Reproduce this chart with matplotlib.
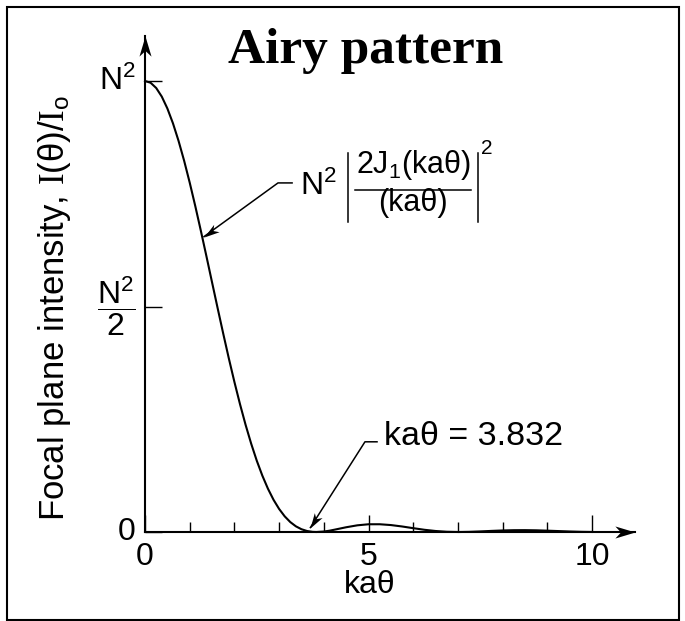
import numpy as np
import matplotlib
matplotlib.use("Agg")
import matplotlib.pyplot as plt
from matplotlib.markers import MarkerStyle
from matplotlib.patches import Rectangle
from matplotlib.transforms import Affine2D

# Normalised focal plane intensity I/N^2 against ka*theta
KA_THETA = [0.0, 0.125, 0.25, 0.375, 0.5, 0.625, 0.75, 0.875, 1.0, 1.125,
            1.25, 1.375, 1.5, 1.625, 1.75, 1.875, 2.0, 2.125, 2.25, 2.375,
            2.5, 2.625, 2.75, 2.875, 3.0, 3.125, 3.25, 3.375, 3.5, 3.625,
            3.75, 3.832, 4.0, 4.125, 4.25, 4.5, 4.75, 5.0, 5.25, 5.5, 5.75,
            6.0, 6.25, 6.5, 6.75, 7.016, 7.25, 7.5, 7.75, 8.0, 8.25, 8.5,
            8.75, 9.0, 9.25, 9.5, 9.75, 10.0]
INTENSITY = [1.0, 0.9961, 0.9845, 0.9654, 0.9391, 0.9062, 0.8673, 0.8232,
             0.7746, 0.7224, 0.6675, 0.6109, 0.5534, 0.4961, 0.4397, 0.3849,
             0.3326, 0.2834, 0.2376, 0.1958, 0.1581, 0.1249, 0.0960, 0.0714,
             0.0511, 0.0347, 0.0220, 0.0126, 0.00616, 0.00220, 0.00031, 0.0,
             0.00109, 0.00286, 0.00538, 0.01055, 0.01483, 0.01717, 0.01720,
             0.01542, 0.01227, 0.00851, 0.00494, 0.00224, 0.00057, 0.0,
             0.00037, 0.00130, 0.00247, 0.00344, 0.00402, 0.00413, 0.00377,
             0.00297, 0.00206, 0.00115, 0.00046, 0.00008]

X_MAJOR = [0, 5, 10]
X_MAJOR_LABELS = ["0", "5", "10"]
X_MINOR = [1, 2, 3, 4, 6, 7, 8, 9]
Y_TICKS = [0, 0.5, 1.0]
Y_LABELS = ["0", r"$\dfrac{N^2}{2}$", r"$N^2$"]

FIRST_ZERO = 3.832

plt.rcParams["font.family"] = ["Liberation Sans", "DejaVu Sans"]
plt.rcParams["mathtext.fontset"] = "custom"
plt.rcParams["mathtext.rm"] = "Liberation Serif"
plt.rcParams["mathtext.sf"] = "Liberation Sans"
plt.rcParams["mathtext.it"] = "Liberation Sans:italic"
plt.rcParams["mathtext.bf"] = "Liberation Sans:bold"
plt.rcParams["mathtext.default"] = "regular"

XMAX, YMAX = 10.95, 1.10
FS = 23

# barbed arrow head, tip at the origin, pointing along +x
HEAD = [(0, 0), (-1, 0.3), (-0.72, 0), (-1, -0.3), (0, 0)]


def head_marker(angle):
    return MarkerStyle(HEAD, transform=Affine2D().rotate_deg(angle))


# Leader line: short horizontal stub, then a slanted line ending in a head
def leader(ax, tip, kink, stub_end):
    ax.plot([stub_end[0], kink[0], tip[0]], [stub_end[1], kink[1], tip[1]],
            color="black", lw=1.1, clip_on=False)
    p0 = ax.transData.transform(kink)
    p1 = ax.transData.transform(tip)
    angle = np.degrees(np.arctan2(p1[1] - p0[1], p1[0] - p0[0]))
    ax.plot([tip[0]], [tip[1]], marker=head_marker(angle), ms=22,
            color="black", mew=0, clip_on=False)


fig = plt.figure(figsize=(6.85, 6.21), dpi=100)
ax = fig.add_axes([0.2117, 0.1433, 0.7146, 0.7989])

ax.plot(KA_THETA, INTENSITY, color="black", lw=1.5, clip_on=False)

ax.set_xlim(0, XMAX)
ax.set_ylim(0, YMAX)
for side in ("top", "right"):
    ax.spines[side].set_visible(False)
for side in ("left", "bottom"):
    ax.spines[side].set_linewidth(1.5)

# arrow heads at the ends of both axes
ax.plot([XMAX], [0], marker=head_marker(0), ms=29, color="black",
        mew=0, clip_on=False)
ax.plot([0], [YMAX], marker=head_marker(90), ms=29, color="black",
        mew=0, clip_on=False)

ax.set_xticks(X_MAJOR)
ax.set_xticklabels(X_MAJOR_LABELS)
ax.set_xticks(X_MINOR, minor=True)
ax.tick_params(axis="x", which="major", direction="in", length=12, width=1,
               pad=7, labelsize=FS)
ax.tick_params(axis="x", which="minor", direction="in", length=7, width=1)
ax.set_yticks(Y_TICKS)
ax.set_yticklabels(Y_LABELS)
ax.tick_params(axis="y", direction="in", length=12, width=1, pad=7,
               labelsize=FS)
for lab in ax.get_yticklabels():
    lab.set_verticalalignment("center")

ax.set_xlabel("kaθ", fontsize=FS, va="center")
ax.xaxis.set_label_coords(0.46, -0.107)
ax.set_ylabel(r"Focal plane intensity, $\mathrm{I}$(θ)/$\mathrm{I}_{o}$",
              fontsize=25, va="center")
ax.yaxis.set_label_coords(-0.184, 0.452)

# label for the main lobe: N^2 |2J1(ka theta)/(ka theta)|^2
leader(ax, tip=(1.32, 0.655), kink=(2.975, 0.774), stub_end=(3.29, 0.774))
ax.text(3.46, 0.747, r"$N^2$", fontsize=FS, ha="left", va="baseline")
ax.plot([4.54, 4.54], [0.687, 0.840], color="black", lw=1.1, clip_on=False)
ax.plot([7.45, 7.45], [0.687, 0.840], color="black", lw=1.1, clip_on=False)
ax.plot([4.70, 7.30], [0.758, 0.758], color="black", lw=1.1, clip_on=False)
ax.text(6.0, 0.796, r"2J$_1$(kaθ)", fontsize=22, ha="center",
        va="baseline")
ax.text(6.0, 0.712, "(kaθ)", fontsize=22, ha="center", va="baseline")
ax.text(7.52, 0.872, "2", fontsize=15, ha="left", va="top")

# label for the first dark ring
leader(ax, tip=(3.70, 0.010), kink=(4.92, 0.20), stub_end=(5.19, 0.20))
ax.text(5.35, 0.211, f"kaθ = {FIRST_ZERO}", fontsize=24.5, ha="left",
        va="center")

fig.text(0.534, 0.8986, "Airy pattern", ha="center", va="baseline",
         fontfamily="Liberation Serif", fontweight="bold", fontsize=37)

fig.patches.append(Rectangle((0.0102, 0.0024), 0.9808, 0.9863,
                             transform=fig.transFigure, fill=False,
                             lw=1.5, ec="black"))

fig.savefig("out.png", dpi=100)
